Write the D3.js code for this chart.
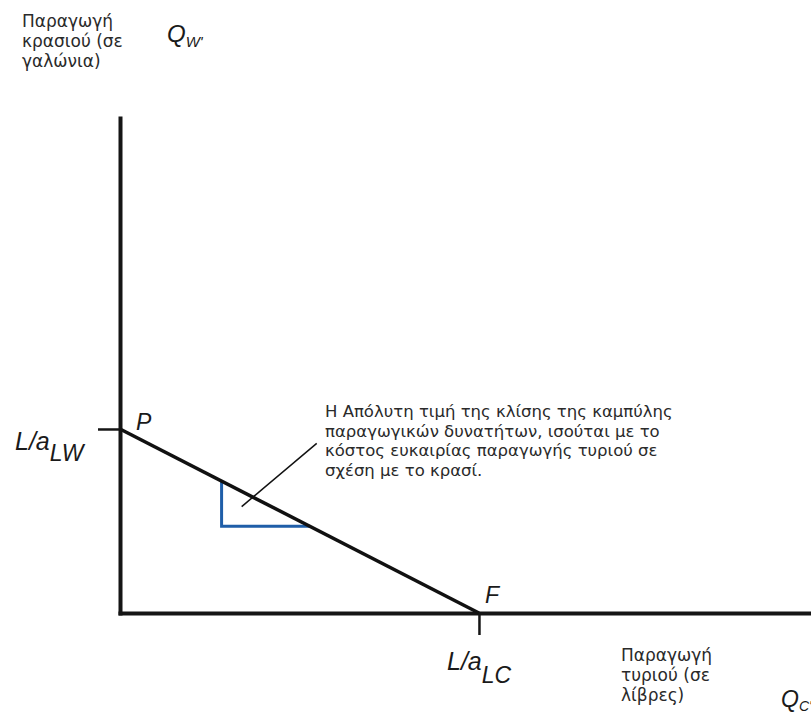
<!DOCTYPE html>
<html>
<head>
<meta charset="utf-8">
<script src="https://cdn.jsdelivr.net/npm/d3@7"></script>
<style>
  body { margin: 0; background: #fff; }
  text { font-family: "DejaVu Sans", Verdana, sans-serif; fill: #2a2a2a; }
</style>
</head>
<body>
<div id="chart-area"></div>
<script>
// production possibility frontier, home country (cheese vs wine)
let cheeseMax = 1000   // L/aLC
let wineMax = 500      // L/aLW

let ppf = [
    { cheese: 0, wine: 500 },
    { cheese: 1000, wine: 0 }
]

// blue slope triangle under the frontier
let slopeTriangle = [
    { cheese: 283, wine: 358 },
    { cheese: 283, wine: 236 },
    { cheese: 528, wine: 236 }
]

// pointer from the note to the frontier
let leader = [
    { cheese: 339, wine: 289 },
    { cheese: 548, wine: 461 }
]

let noteLines = [
    "Η Απόλυτη τιμή της κλίσης της καμπύλης",
    "παραγωγικών δυνατήτων, ισούται με το",
    "κόστος ευκαιρίας παραγωγής τυριού σε",
    "σχέση με το κρασί."
]
let yTitle = ["Παραγωγή", "κρασιού (σε", "γαλώνια)"]
let xTitle = ["Παραγωγή", "τυριού (σε", "λίβρες)"]

let width = 811
let height = 714

let svg = d3.select("#chart-area")
            .append('svg')
            .attr('width', width)
            .attr('height', height)

let xScale = d3.scaleLinear()
                .domain([0, 1925])
                .range([120, 811])

let yScale = d3.scaleLinear()
                .domain([0, 1345])
                .range([613, 118])

// axes
let xAxis = svg.append('g')
    .attr('transform', 'translate(0,' + yScale(0) + ')')
    .call(d3.axisBottom(xScale).tickValues([cheeseMax]).tickSize(22).tickSizeOuter(0).tickFormat(''))
let yAxis = svg.append('g')
    .attr('transform', 'translate(' + xScale(0) + ',0)')
    .call(d3.axisLeft(yScale).tickValues([wineMax]).tickSize(22).tickSizeOuter(0).tickFormat(''))

svg.selectAll('.domain')
    .attr('stroke', '#151515')
    .attr('stroke-width', 4)
    .attr('stroke-linecap', 'square')
svg.selectAll('.tick line')
    .attr('stroke', '#151515')
    .attr('stroke-width', 2.5)

// slope triangle
let line = d3.line().x(d => xScale(d.cheese)).y(d => yScale(d.wine))

svg.append('path')
    .attr('d', line(slopeTriangle))
    .attr('fill', 'none')
    .attr('stroke', '#1f5ea8')
    .attr('stroke-width', 3)

// frontier
svg.append('path')
    .attr('d', line(ppf))
    .attr('fill', 'none')
    .attr('stroke', '#111')
    .attr('stroke-width', 3.5)

svg.append('path')
    .attr('d', line(leader))
    .attr('fill', 'none')
    .attr('stroke', '#111')
    .attr('stroke-width', 1.5)

// text blocks
function block(lines, x, y, gap, size) {
    let t = svg.append('text').attr('x', x).attr('y', y).style('font-size', size + 'px')
    t.selectAll('tspan')
        .data(lines)
        .enter()
        .append('tspan')
        .attr('x', x)
        .attr('dy', (d, i) => i == 0 ? 0 : gap)
        .text(d => d)
}
block(noteLines, 325, 417, 19.5, 16.5)
block(yTitle, 22, 27, 20, 17)
block(xTitle, 621, 661, 20, 17)

// italic math labels
function mathLabel(x, y, main, sub, size, subSize, shift) {
    let t = svg.append('text')
        .attr('x', x)
        .attr('y', y)
        .style('font-family', '"Liberation Sans", Arial, sans-serif')
        .style('font-size', size + 'px')
        .style('font-style', 'italic')
        .style('fill', '#1a1a1a')
    t.append('tspan').text(main)
    if (sub) t.append('tspan').attr('dy', shift).style('font-size', subSize + 'px').text(sub)
}
mathLabel(15, 450, 'L/a', 'LW', 25, 23, 11)
mathLabel(447, 670, 'L/a', 'LC', 25, 23, 13)
mathLabel(167, 42, 'Q', "W'", 24, 15, 5)
mathLabel(781, 707, 'Q', "C'", 23, 14, 4)
mathLabel(xScale(0) + 16, yScale(wineMax) + 1, 'P', null, 23)
mathLabel(xScale(cheeseMax) + 6, yScale(0) - 10, 'F', null, 23)
</script>
</body>
</html>
